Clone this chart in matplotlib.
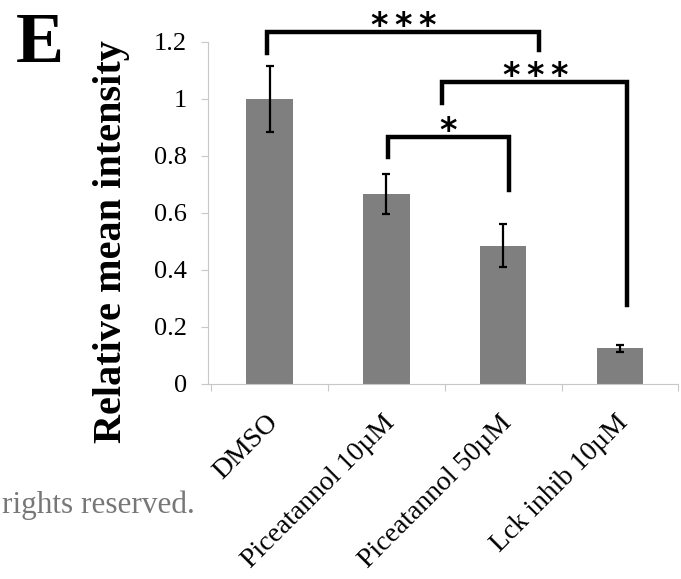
import matplotlib.pyplot as plt
from matplotlib.transforms import ScaledTranslation

# Relative mean intensity per treatment
labels = ["DMSO", "Piceatannol 10\u00b5M", "Piceatannol 50\u00b5M", "Lck inhib 10\u00b5M"]
means = [1.0, 0.665, 0.485, 0.125]
errs = [0.115, 0.07, 0.075, 0.012]

# significance brackets: left x, right x, bar height, left leg end, right leg end, stars
br_x1 = [-0.02, 1.01, 1.48]
br_x2 = [2.31, 2.05, 3.06]
br_y = [1.235, 0.865, 1.06]
br_l = [1.16, 0.795, 0.985]
br_r = [1.17, 0.68, 0.275]
br_n = [3, 1, 3]

plt.rcParams['font.family'] = ['Liberation Serif', 'DejaVu Serif']

fig = plt.figure(figsize=(6.81, 5.79), dpi=100)
ax = fig.add_axes([0.305, 0.337, 0.691, 0.591])

x = range(len(labels))
ax.bar(x, means, width=0.4, color='#7f7f7f', zorder=2)
ax.errorbar(x, means, yerr=errs, fmt='none', ecolor='black', elinewidth=1.6,
            capsize=3, capthick=1.6, zorder=3)

for x1, x2, y, yl, yr, n in zip(br_x1, br_x2, br_y, br_l, br_r, br_n):
    ax.plot([x1, x1, x2, x2], [yl, y, y, yr], color='black', lw=3.2,
            solid_joinstyle='miter', clip_on=False, zorder=4)
    xc = (x1 + x2) / 2
    for k in range(n):
        dx = (k - (n - 1) / 2) * 17.3
        ax.annotate("*", xy=(xc, y), xytext=(dx, -8), textcoords='offset points',
                    ha='center', va='bottom', fontsize=24, fontweight='bold',
                    family='DejaVu Sans', annotation_clip=False)

ax.set_xlim(-0.53, 3.5)
ax.set_ylim(0, 1.2)
ax.set_yticks([0, 0.2, 0.4, 0.6, 0.8, 1.0, 1.2])
ax.set_yticklabels(["0", "0.2", "0.4", "0.6", "0.8", "1", "1.2"], fontsize=19)
ax.set_xticks([-0.5, 0.5, 1.5, 2.5, 3.5])
ax.set_xticklabels([])
ax.set_xticks(list(x), minor=True)
ax.set_xticklabels(labels, minor=True, rotation=45, ha='right', rotation_mode='anchor',
                   fontsize=20)
ax.tick_params(axis='x', which='minor', length=0, pad=19)
ax.tick_params(axis='x', which='major', length=5, color='#c8c8c8', direction='out')
ax.tick_params(axis='y', length=5, color='#c8c8c8', pad=10)
shift = ScaledTranslation(-4 / 100, 0, fig.dpi_scale_trans)
for lab in ax.get_xticklabels(minor=True):
    lab.set_transform(lab.get_transform() + shift)

for s in ['top', 'right']:
    ax.spines[s].set_visible(False)
ax.spines['left'].set_color('#c8c8c8')
ax.spines['bottom'].set_color('#c8c8c8')

fig.text(112 / 681, 1 - 242 / 579, "Relative mean intensity", rotation=90,
         fontsize=29, fontweight='bold', ha='center', va='center')

fig.text(40 / 681, 1 - 44 / 579, "E", fontsize=52, fontweight='bold', ha='center', va='center')
fig.text(0.003, 1 - 505 / 579, "rights reserved.", fontsize=22.5, color='#777777',
         ha='left', va='center')

fig.savefig("out.png", dpi=100)
